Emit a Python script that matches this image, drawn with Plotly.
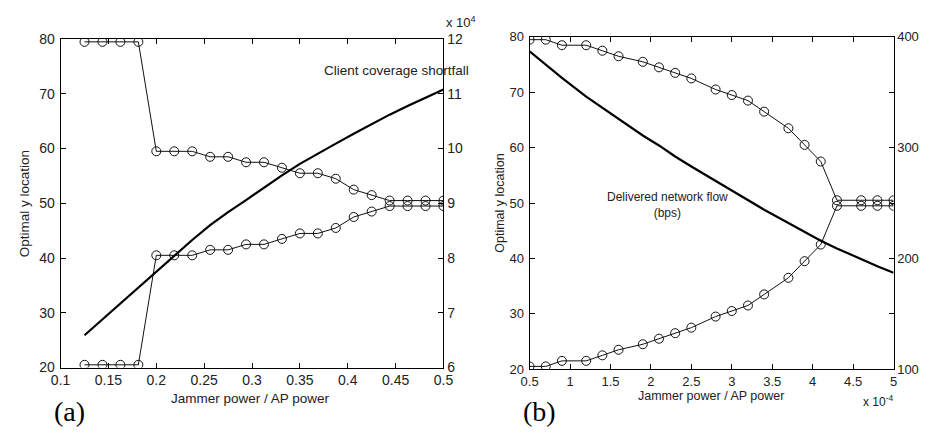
import plotly.graph_objects as go

# ---------------- Data ----------------
# Panel (a)
xa = [0.125, 0.14375, 0.1625, 0.18125, 0.2, 0.21875, 0.2375, 0.25625, 0.275, 0.29375,
      0.3125, 0.33125, 0.35, 0.36875, 0.3875, 0.40625, 0.425, 0.44375, 0.4625, 0.48125, 0.5]
upper_a = [79.5, 79.5, 79.5, 79.5, 59.5, 59.5, 59.5, 58.5, 58.5, 57.5,
           57.5, 56.5, 55.5, 55.5, 54.5, 52.5, 51.5, 50.5, 50.5, 50.5, 50.5]
lower_a = [20.5, 20.5, 20.5, 20.5, 40.5, 40.5, 40.5, 41.5, 41.5, 42.5,
           42.5, 43.5, 44.5, 44.5, 45.5, 47.5, 48.5, 49.5, 49.5, 49.5, 49.5]
# Client coverage shortfall (x 10^4)
shortfall_a = [6.59, 6.88, 7.17, 7.46, 7.76, 8.04, 8.33, 8.60, 8.84, 9.06,
               9.29, 9.51, 9.72, 9.91, 10.09, 10.27, 10.45, 10.62, 10.78, 10.93, 11.08]

# Panel (b)  (x in units of 10^-4)
xb = [0.5, 0.7, 0.9, 1.2, 1.4, 1.6, 1.9, 2.1, 2.3, 2.5, 2.8,
      3.0, 3.2, 3.4, 3.7, 3.9, 4.1, 4.3, 4.6, 4.8, 5.0]
upper_b = [79.5, 79.5, 78.5, 78.5, 77.5, 76.5, 75.5, 74.5, 73.5, 72.5, 70.5,
           69.5, 68.5, 66.5, 63.5, 60.5, 57.5, 50.5, 50.5, 50.5, 50.5]
lower_b = [20.5, 20.5, 21.5, 21.5, 22.5, 23.5, 24.5, 25.5, 26.5, 27.5, 29.5,
           30.5, 31.5, 33.5, 36.5, 39.5, 42.5, 49.5, 49.5, 49.5, 49.5]
# Delivered network flow (bps)
flow_b = [387, 375, 363, 346, 336, 326, 311, 302, 292, 283, 270,
          261, 252, 244, 232, 224, 216, 209, 199, 193, 187]

W, H = 929, 434
def px(x):
    return x / W
def py(y):
    return 1 - y / H

fig = go.Figure()

thin = dict(color="#111111", width=1)
mk = dict(symbol="circle-open", size=9, color="#111111", line=dict(width=1, color="#111111"))

fig.add_trace(go.Scatter(x=xa, y=upper_a, mode="lines+markers", line=thin, marker=mk,
                         xaxis="x", yaxis="y", showlegend=False))
fig.add_trace(go.Scatter(x=xa, y=lower_a, mode="lines+markers", line=thin, marker=mk,
                         xaxis="x", yaxis="y", showlegend=False))
fig.add_trace(go.Scatter(x=xa, y=shortfall_a, mode="lines", line=dict(color="black", width=2.2),
                         xaxis="x", yaxis="y2", showlegend=False))

fig.add_trace(go.Scatter(x=xb, y=upper_b, mode="lines+markers", line=thin, marker=mk,
                         xaxis="x2", yaxis="y3", showlegend=False))
fig.add_trace(go.Scatter(x=xb, y=lower_b, mode="lines+markers", line=thin, marker=mk,
                         xaxis="x2", yaxis="y3", showlegend=False))
fig.add_trace(go.Scatter(x=xb, y=flow_b, mode="lines", line=dict(color="black", width=2.2),
                         xaxis="x2", yaxis="y4", showlegend=False))

tickcol = "#222222"
fa = dict(family="Liberation Sans, Arial, sans-serif", size=14, color=tickcol)
fb = dict(family="Liberation Sans, Arial, sans-serif", size=13, color=tickcol)

common = dict(showline=True, linecolor="black", linewidth=1, ticks="inside", ticklen=5,
              tickcolor="black", tickwidth=1, showgrid=False, zeroline=False)

ya_dom = [py(373.3), py(32.3)]
yb_dom = [py(375), py(30)]

fig.update_layout(
    width=W, height=H,
    margin=dict(l=0, r=0, t=0, b=0),
    paper_bgcolor="white", plot_bgcolor="white",
    xaxis=dict(domain=[px(51.7), px(443)], range=[0.1, 0.5], tick0=0.1, dtick=0.05,
               mirror="ticks", anchor="y", tickfont=fa, **common),
    yaxis=dict(domain=ya_dom, range=[20, 80], dtick=10, mirror="ticks", anchor="x",
               tickfont=fa, ticklabelstandoff=2, **common),
    yaxis2=dict(overlaying="y", side="right", range=[6, 12], dtick=1, anchor="x",
                tickfont=fa, **common),
    xaxis2=dict(domain=[px(531), px(903)], range=[0.5, 5], tick0=0.5, dtick=0.5,
                mirror="ticks", anchor="y3", tickfont=fb, **common),
    yaxis3=dict(domain=yb_dom, range=[20, 80], dtick=10, mirror="ticks", anchor="x2",
                tickfont=fb, ticklabelstandoff=2, **common),
    yaxis4=dict(overlaying="y3", side="right", range=[100, 400], dtick=100, anchor="x2",
                tickfont=fb, **common),
)

txt = "Liberation Sans, Arial, sans-serif"
ann = [
    dict(text="Jammer power / AP power", x=px(246), y=py(405), font=dict(family=txt, size=13.5, color=tickcol)),
    dict(text="Optimal y location", x=px(15), y=py(203), textangle=-90, font=dict(family=txt, size=13.5, color=tickcol)),
    dict(text="Jammer power / AP power", x=px(716), y=py(403), font=dict(family=txt, size=12.5, color=tickcol)),
    dict(text="Optimal y location", x=px(500), y=py(203), textangle=-90, font=dict(family=txt, size=12.5, color=tickcol)),
    dict(text="Client coverage shortfall", x=px(319), y=py(65), xanchor="left", font=dict(family=txt, size=13.5, color=tickcol)),
    dict(text="Delivered network flow<br>(bps)", x=px(672), y=py(205), font=dict(family=txt, size=12, color=tickcol)),
    dict(text="x 10<sup>4</sup>", x=px(444), y=py(15), xanchor="left", font=dict(family=txt, size=13, color=tickcol)),
    dict(text="x 10<sup>-4</sup>", x=px(870), y=py(408), xanchor="left", font=dict(family=txt, size=12, color=tickcol)),
    dict(text="(a)", x=px(61), y=py(419), font=dict(family="Liberation Serif, Times New Roman, serif", size=28, color="black")),
    dict(text="(b)", x=px(541), y=py(419), font=dict(family="Liberation Serif, Times New Roman, serif", size=28, color="black")),
]
for a in ann:
    a.update(xref="paper", yref="paper", showarrow=False)
    a.setdefault("xanchor", "center")
    a.setdefault("yanchor", "middle")
fig.update_layout(annotations=ann)

fig.write_html("out.html")
